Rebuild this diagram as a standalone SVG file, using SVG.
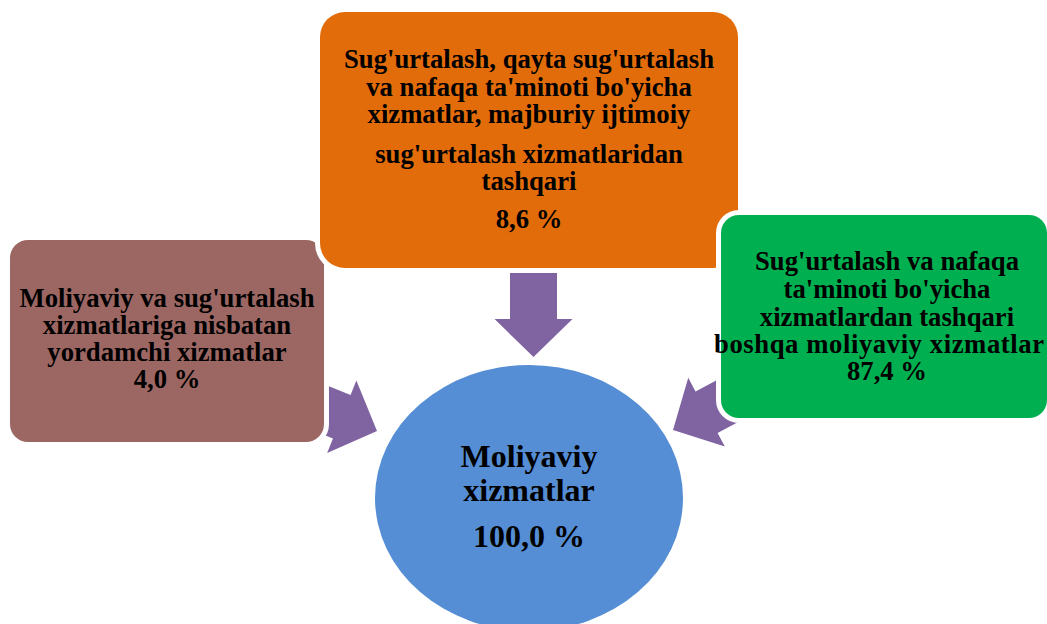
<svg xmlns="http://www.w3.org/2000/svg" width="1047" height="624" viewBox="0 0 1047 624">
<style>
.box{stroke:#ffffff;stroke-width:10;paint-order:stroke}
.arrow{fill:#8064A2}
text{font-family:"Liberation Serif","Times New Roman",serif;font-weight:bold;fill:#000;text-anchor:middle}
.t{font-size:26.7px}
.c{font-size:32px}
</style>
<defs>
<polygon id="arr" points="-23.5,-90 23.5,-90 23.5,-38 39,-38 0,0 -39,-38 -23.5,-38"/>
</defs>
<rect width="1047" height="624" fill="#ffffff"/>
<g id="connectors">
<use href="#arr" class="arrow" transform="translate(533.5,357)"/>
<use href="#arr" class="arrow" transform="translate(377,431) rotate(-68)"/>
<use href="#arr" class="arrow" transform="translate(673,430) rotate(62)"/>
</g>
<g id="center">
<ellipse cx="529" cy="498" rx="154" ry="133" fill="#558ED5"/>
<text class="c" x="529" y="467">Moliyaviy</text>
<text class="c" x="529" y="501">xizmatlar</text>
<text class="c" x="529" y="547">100,0 %</text>
</g>
<g id="left">
<rect class="box" x="10" y="240" width="314" height="202" rx="18" fill="#9C6763"/>
<text class="t" x="167" y="307">Moliyaviy va sug'urtalash</text>
<text class="t" x="167" y="334">xizmatlariga nisbatan</text>
<text class="t" x="167" y="361">yordamchi xizmatlar</text>
<text class="t" x="167" y="388">4,0 %</text>
</g>
<g id="top">
<rect class="box" x="320" y="12" width="418" height="256" rx="25" fill="#E36C0A"/>
<text class="t" x="529" y="68">Sug'urtalash, qayta sug'urtalash</text>
<text class="t" x="529" y="96">va nafaqa ta'minoti bo'yicha</text>
<text class="t" x="529" y="123">xizmatlar, majburiy ijtimoiy</text>
<text class="t" x="529" y="163">sug'urtalash xizmatlaridan</text>
<text class="t" x="529" y="190">tashqari</text>
<text class="t" x="529" y="228">8,6 %</text>
</g>
<g id="right">
<rect class="box" x="721" y="215" width="326" height="203" rx="18" fill="#00B050"/>
<text class="t" x="887" y="270">Sug'urtalash va nafaqa</text>
<text class="t" x="887" y="298">ta'minoti bo'yicha</text>
<text class="t" x="887" y="326">xizmatlardan tashqari</text>
<text class="t" x="879" y="353" textLength="330" lengthAdjust="spacing">boshqa moliyaviy xizmatlar</text>
<text class="t" x="887" y="380">87,4 %</text>
</g>
</svg>
